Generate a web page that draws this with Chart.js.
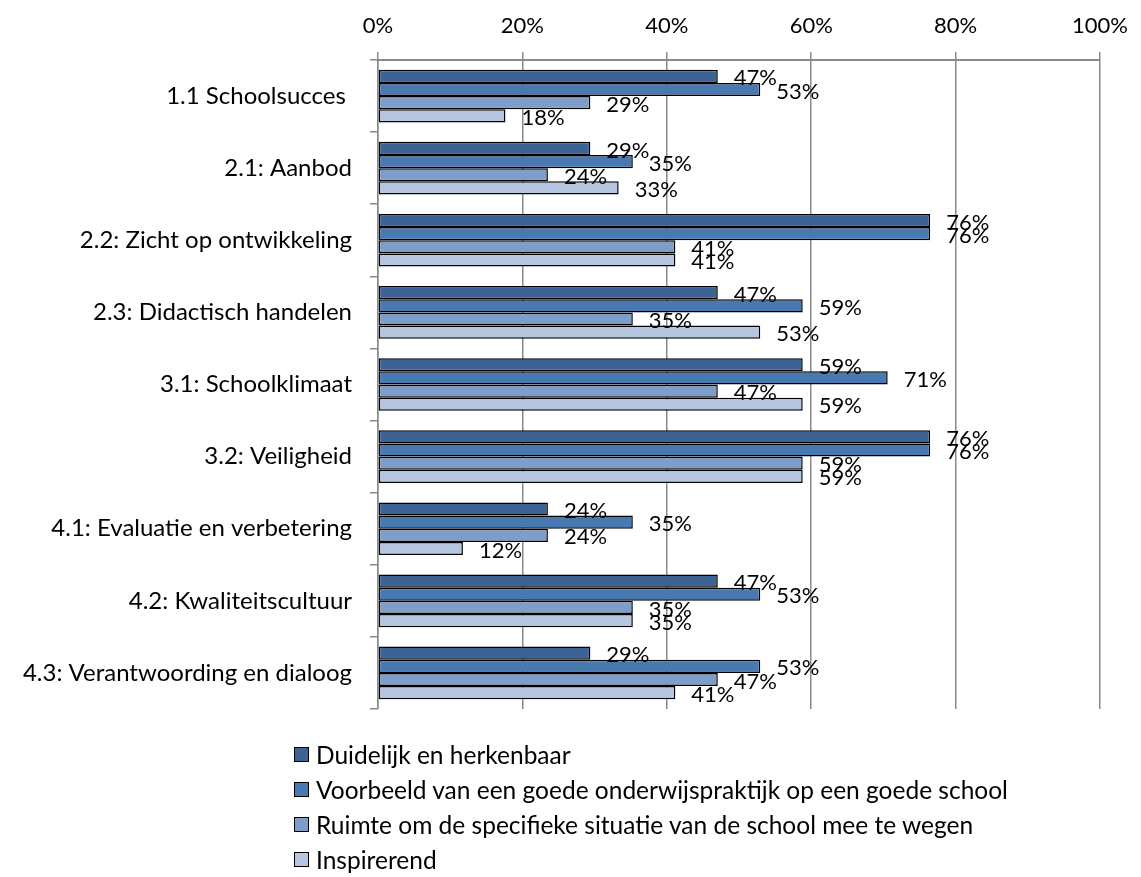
<!DOCTYPE html>
<html>
<head>
<meta charset="utf-8">
<script src="https://cdn.jsdelivr.net/npm/chart.js@4.4.1/dist/chart.umd.min.js"></script>
<style>
  html, body { margin: 0; padding: 0; background: #fff; }
  #wrap { position: relative; width: 1141px; height: 877px; overflow: hidden; }
  #legend { position: absolute; left: 294px; top: 737px; font-family: Lato, sans-serif; font-size: 24.5px; color: #000; }
  .li { height: 35px; display: flex; align-items: center; white-space: nowrap; }
  .sw { width: 13px; height: 13px; border: 1.5px solid #000; margin-right: 7px; flex: none; }
</style>
</head>
<body>
<div id="wrap">
  <canvas id="c" width="1141" height="877"></canvas>
  <div id="legend"></div>
</div>
<script>
const categories = [
  "1.1 Schoolsucces ",
  "2.1: Aanbod",
  "2.2: Zicht op ontwikkeling",
  "2.3: Didactisch handelen",
  "3.1: Schoolklimaat",
  "3.2: Veiligheid",
  "4.1: Evaluatie en verbetering",
  "4.2: Kwaliteitscultuur",
  "4.3: Verantwoording en dialoog"
];
const seriesNames = [
  "Duidelijk en herkenbaar",
  "Voorbeeld van een goede onderwijspraktijk op een goede school",
  "Ruimte om de specifieke situatie van de school mee te wegen",
  "Inspirerend"
];
const duidelijk   = [47.06, 29.41, 76.47, 47.06, 58.82, 76.47, 23.53, 47.06, 29.41];
const voorbeeld   = [52.94, 35.29, 76.47, 58.82, 70.59, 76.47, 35.29, 52.94, 52.94];
const ruimte      = [29.41, 23.53, 41.18, 35.29, 47.06, 58.82, 23.53, 35.29, 47.06];
const inspirerend = [17.65, 33.33, 41.18, 52.94, 58.82, 58.82, 11.76, 35.29, 41.18];
const tickValues  = [0, 20, 40, 60, 80, 100];

const colors = ["#3c6394", "#4879b0", "#7e9ec9", "#b6c5e0"];
const seriesData = [duidelijk, voorbeeld, ruimte, inspirerend];
const FONT = "Lato, sans-serif";
const GRID = "#8a8a8a";

const labelPlugin = {
  id: "barLabels",
  afterDatasetsDraw(chart) {
    const ctx = chart.ctx;
    ctx.save();
    ctx.font = "22px " + FONT;
    ctx.fillStyle = "#000";
    ctx.textAlign = "left";
    ctx.textBaseline = "middle";
    chart.data.datasets.forEach((ds, i) => {
      const meta = chart.getDatasetMeta(i);
      meta.data.forEach((el, j) => {
        ctx.fillText(Math.round(ds.data[j]) + "%", el.x + 16, el.y + 2);
      });
    });
    ctx.restore();
  }
};

new Chart(document.getElementById("c"), {
  type: "bar",
  data: {
    labels: categories,
    datasets: seriesData.map((d, i) => ({
      label: seriesNames[i],
      data: d,
      backgroundColor: colors[i],
      borderColor: "#000",
      borderWidth: 1.5,
      borderSkipped: false,
      categoryPercentage: 0.73,
      barPercentage: 1.0
    }))
  },
  options: {
    indexAxis: "y",
    responsive: false,
    animation: false,
    devicePixelRatio: 1,
    layout: { padding: { top: 0, left: 0, right: 38, bottom: 168 } },
    plugins: { legend: { display: false }, tooltip: { enabled: false } },
    scales: {
      x: {
        position: "top",
        min: 0, max: 100,
        afterBuildTicks: (a) => { a.ticks = tickValues.map(v => ({ value: v })); },
        afterFit: (a) => { a.height = 60; },
        ticks: {
          callback: (v) => v + "%",
          font: { family: FONT, size: 22 },
          color: "#000",
          padding: 13,
          maxRotation: 0
        },
        grid: { color: GRID, lineWidth: 1.5, tickLength: 8, drawTicks: true },
        border: { display: true, color: GRID, width: 2 }
      },
      y: {
        afterFit: (a) => { a.width = 378; },
        ticks: {
          font: { family: FONT, size: 24 },
          color: "#000",
          padding: 18,
          autoSkip: false
        },
        grid: { offset: true, drawOnChartArea: false, color: GRID, lineWidth: 1.5, tickLength: 8 },
        border: { display: true, color: GRID, width: 1.5 }
      }
    }
  },
  plugins: [labelPlugin]
});

const legend = document.getElementById("legend");
seriesNames.forEach((n, i) => {
  const row = document.createElement("div");
  row.className = "li";
  const sw = document.createElement("span");
  sw.className = "sw";
  sw.style.background = colors[i];
  const t = document.createElement("span");
  t.textContent = n;
  row.appendChild(sw);
  row.appendChild(t);
  legend.appendChild(row);
});
</script>
</body>
</html>
